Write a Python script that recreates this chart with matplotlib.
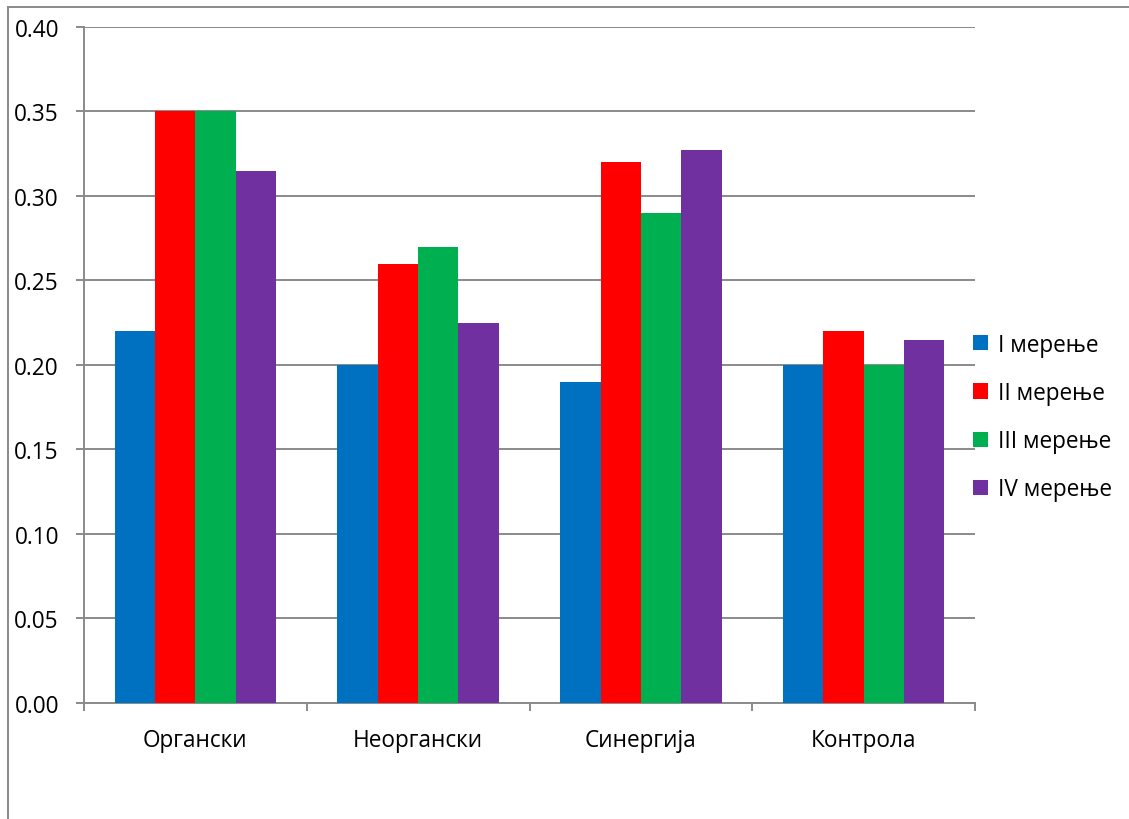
import numpy as np
import matplotlib
matplotlib.use("Agg")
import matplotlib.pyplot as plt
from matplotlib.lines import Line2D

plt.rcParams['font.family'] = ['Open Sans', 'DejaVu Sans']

categories = ["Органски", "Неоргански", "Синергија", "Контрола"]
series_names = ["I мерење", "II мерење", "III мерење", "IV мерење"]
mer_1 = [0.22, 0.20, 0.19, 0.20]
mer_2 = [0.35, 0.26, 0.32, 0.22]
mer_3 = [0.35, 0.27, 0.29, 0.20]
mer_4 = [0.315, 0.225, 0.327, 0.215]
colors = ["#0070C0", "#FF0000", "#00B050", "#7030A0"]
y_ticks = [0.00, 0.05, 0.10, 0.15, 0.20, 0.25, 0.30, 0.35, 0.40]

fs = 16.3
fig = plt.figure(figsize=(11.29, 8.2), dpi=100)
ax = fig.add_axes([0.0744, 0.1415, 0.7892, 0.8244])

x = np.arange(len(categories))
w = 0.181
for k, (vals, name, c) in enumerate(zip([mer_1, mer_2, mer_3, mer_4], series_names, colors)):
    ax.bar(x + (k - 1.5) * w, vals, width=w, color=c, label=name, zorder=3)

ax.set_xlim(-0.5, len(categories) - 0.5)
ax.set_ylim(0, 0.40)
ax.set_yticks(y_ticks)
ax.set_yticklabels([f"{v:.2f}" for v in y_ticks])
ax.yaxis.grid(True, color="#8a8a8a", linewidth=1.4, zorder=0)

ax.set_xticks(x)
ax.set_xticklabels(categories)
ax.set_xticks(np.arange(-0.5, len(categories)), minor=True)
ax.tick_params(axis="x", which="major", length=0, pad=18, labelsize=fs)
ax.tick_params(axis="x", which="minor", length=6, width=1.4, color="#8a8a8a")
ax.tick_params(axis="y", length=6, width=1.4, color="#8a8a8a", labelsize=fs, pad=12)

for s in ["top", "right"]:
    ax.spines[s].set_visible(False)
for s in ["left", "bottom"]:
    ax.spines[s].set_color("#8a8a8a")
    ax.spines[s].set_linewidth(1.4)

ax.legend(loc="center left", bbox_to_anchor=(0.998, 0.423), frameon=False,
          fontsize=fs, handlelength=0.65, handleheight=0.65, handletextpad=0.45,
          labelspacing=1.07, borderpad=0, borderaxespad=0)

# outer chart border
fig.add_artist(Line2D([0.0071, 1.0], [0.9902, 0.9902], color="#8a8a8a", linewidth=1.4))
fig.add_artist(Line2D([0.0071, 0.0071], [0.0, 0.9902], color="#8a8a8a", linewidth=1.4))

fig.savefig("out.png", dpi=100)
